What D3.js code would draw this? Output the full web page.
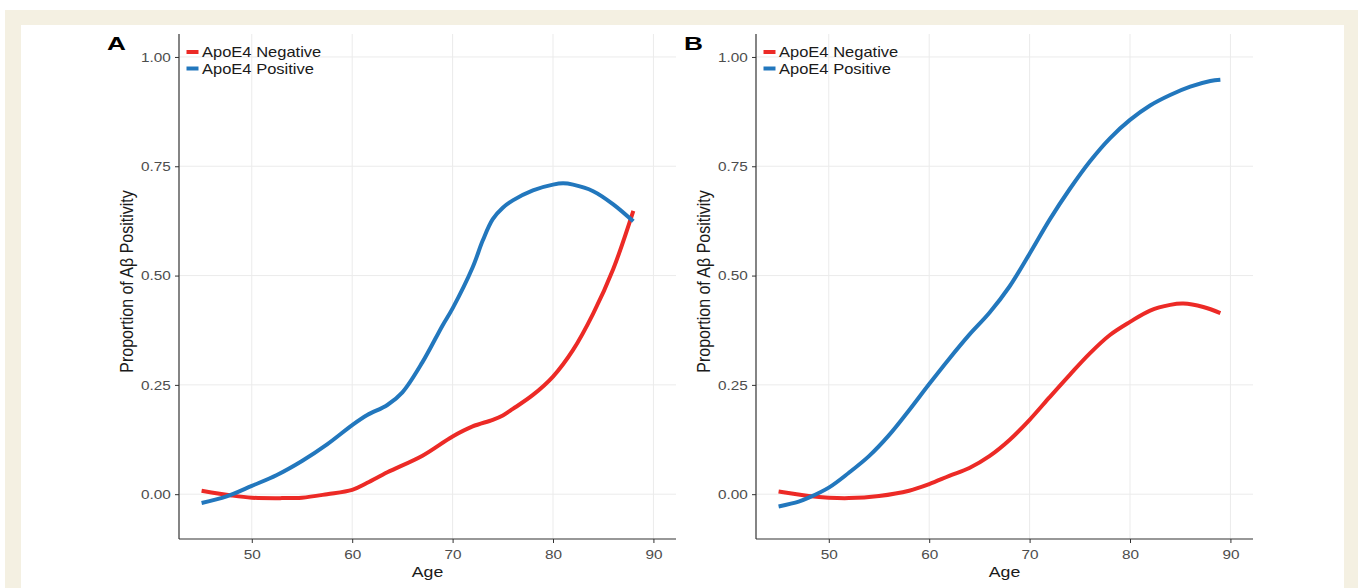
<!DOCTYPE html>
<html>
<head>
<meta charset="utf-8">
<script src="https://cdn.jsdelivr.net/npm/d3@7"></script>
<style>
  html, body { margin: 0; padding: 0; background: #ffffff; }
  svg { display: block; }
  text { font-family: "Liberation Sans", Arial, Helvetica, sans-serif; }
</style>
</head>
<body>
<svg id="chart" width="1358" height="588"></svg>
<script>
// ---------------- DATA ----------------
const seriesNames = ["ApoE4 Negative", "ApoE4 Positive"];
const panelLabels = ["A", "B"];
const xTicks = [50, 60, 70, 80, 90];
const yTicks = [0, 0.25, 0.5, 0.75, 1.0];
const xTitle = "Age";
const yTitle = "Proportion of A\u03B2 Positivity";

// Panel A
const agesA_neg = [45, 48, 50, 53, 55, 57.5, 60, 61.5, 63.5, 67, 70, 72, 74, 75, 76, 78, 80, 82, 84, 86, 88];
const valsA_neg = [0.008, -0.003, -0.008, -0.009, -0.008, 0.0, 0.01, 0.026, 0.05, 0.088, 0.132, 0.155, 0.17, 0.18, 0.195, 0.227, 0.269, 0.33, 0.413, 0.515, 0.648];
const agesA_pos = [45, 47.5, 50, 52.5, 55, 57.5, 60, 61.5, 63.5, 65, 67, 69, 70, 72, 73, 74, 75, 76, 78, 80, 81, 82, 84, 86, 88];
const valsA_pos = [-0.02, -0.005, 0.019, 0.044, 0.076, 0.114, 0.158, 0.181, 0.204, 0.233, 0.302, 0.386, 0.425, 0.519, 0.58, 0.629, 0.655, 0.672, 0.695, 0.708, 0.711, 0.708, 0.693, 0.663, 0.624];

// Panel B
const agesB_neg = [45, 48, 50, 52, 55, 58, 60, 62, 64, 66, 68, 70, 72, 74, 76, 78, 80, 82, 84, 85.3, 87.3, 89];
const valsB_neg = [0.006, -0.004, -0.008, -0.009, -0.004, 0.008, 0.023, 0.042, 0.06, 0.087, 0.124, 0.17, 0.222, 0.273, 0.322, 0.364, 0.394, 0.42, 0.433, 0.436, 0.428, 0.414];
const agesB_pos = [45, 47, 48, 50, 52, 54, 56, 58, 60, 62, 64, 66, 68, 70, 72, 74, 76, 78, 80, 82, 84, 86, 88, 89];
const valsB_pos = [-0.028, -0.017, -0.008, 0.015, 0.049, 0.087, 0.135, 0.192, 0.252, 0.31, 0.365, 0.415, 0.475, 0.55, 0.628, 0.698, 0.761, 0.814, 0.856, 0.889, 0.913, 0.932, 0.945, 0.948];

const colors = ["#ec2a26", "#2277bd"];

// ---------------- LAYOUT ----------------
const svg = d3.select("#chart");
const SX = 1.18; // horizontal stretch of glyphs in the reference

svg.append("rect").attr("x", 0).attr("y", 0).attr("width", 1358).attr("height", 588).attr("fill", "#ffffff");
svg.append("rect").attr("x", 5).attr("y", 10).attr("width", 1353).attr("height", 578).attr("fill", "#f4f0e2");
svg.append("rect").attr("x", 21).attr("y", 25).attr("width", 1323).attr("height", 563).attr("fill", "#ffffff");

const panels = [
  { label: panelLabels[0], left: 179, right: 676, series: [[agesA_neg, valsA_neg], [agesA_pos, valsA_pos]] },
  { label: panelLabels[1], left: 756, right: 1253, series: [[agesB_neg, valsB_neg], [agesB_pos, valsB_pos]] }
];
const plotTop = 34, plotBottom = 539;

panels.forEach(p => {
  const x = d3.scaleLinear().domain([42.75, 92.25]).range([p.left, p.right]);
  const y = d3.scaleLinear().domain([-0.1025, 1.0525]).range([plotBottom, plotTop]);
  const g = svg.append("g");

  // gridlines
  g.append("g").selectAll("line").data(xTicks).join("line")
    .attr("x1", d => x(d)).attr("x2", d => x(d)).attr("y1", plotTop).attr("y2", plotBottom)
    .attr("stroke", "#ebebeb").attr("stroke-width", 1);
  g.append("g").selectAll("line").data(yTicks).join("line")
    .attr("x1", p.left).attr("x2", p.right).attr("y1", d => y(d)).attr("y2", d => y(d))
    .attr("stroke", "#ebebeb").attr("stroke-width", 1);

  // lines
  const line = d3.line().x(d => x(d[0])).y(d => y(d[1])).curve(d3.curveCatmullRom.alpha(0.5));
  p.series.forEach((s, i) => {
    const pts = s[0].map((a, k) => [a, s[1][k]]);
    g.append("path").datum(pts).attr("d", line)
      .attr("fill", "none").attr("stroke", colors[i]).attr("stroke-width", 4)
      .attr("stroke-linecap", "butt").attr("stroke-linejoin", "round");
  });

  // axes
  const yAxis = d3.axisLeft(y).tickValues(yTicks).tickFormat(d3.format(".2f")).tickSize(4).tickPadding(3);
  const ya = g.append("g").attr("transform", `translate(${p.left},0)`).call(yAxis);
  ya.select(".domain").attr("d", `M0,${plotTop}V${plotBottom}`).attr("stroke", "#333333").attr("stroke-width", 1.2);
  ya.selectAll(".tick line").attr("stroke", "#333333");
  ya.selectAll(".tick text").attr("fill", "#4d4d4d").style("font-size", "13px")
    .attr("transform", `scale(${SX},1)`);

  const xAxis = d3.axisBottom(x).tickValues(xTicks).tickFormat(d3.format("d")).tickSize(4).tickPadding(7);
  const xa = g.append("g").attr("transform", `translate(0,${plotBottom})`).call(xAxis);
  xa.select(".domain").attr("d", `M${p.left},0H${p.right}`).attr("stroke", "#333333").attr("stroke-width", 1.2);
  xa.selectAll(".tick line").attr("stroke", "#333333");
  xa.selectAll(".tick text").attr("fill", "#4d4d4d").style("font-size", "13px")
    .attr("transform", `scale(${SX},1)`);

  // axis titles
  g.append("text").attr("transform", `translate(${(p.left + p.right) / 2},577) scale(${SX},1)`)
    .attr("text-anchor", "middle").style("font-size", "15px").attr("fill", "#1a1a1a").text(xTitle);
  g.append("text").attr("transform", `translate(${p.left - 53},${(plotTop + plotBottom) / 2 - 5}) scale(${SX},1) rotate(-90)`)
    .attr("text-anchor", "middle").attr("dy", "0.35em").style("font-size", "16px").attr("fill", "#1a1a1a").text(yTitle);

  // panel label
  g.append("text").attr("transform", `translate(${p.left - 72},50) scale(1.38,1)`)
    .style("font-size", "19px").style("font-weight", "bold").attr("fill", "#000").text(p.label);

  // legend
  seriesNames.forEach((n, i) => {
    const ly = 52 + i * 16.5;
    g.append("line").attr("x1", p.left + 7.5).attr("x2", p.left + 19.5).attr("y1", ly).attr("y2", ly)
      .attr("stroke", colors[i]).attr("stroke-width", 4);
    g.append("text").attr("transform", `translate(${p.left + 23},${ly + 5}) scale(${SX},1)`)
      .style("font-size", "14px").attr("fill", "#1a1a1a").text(n);
  });
});
</script>
</body>
</html>
